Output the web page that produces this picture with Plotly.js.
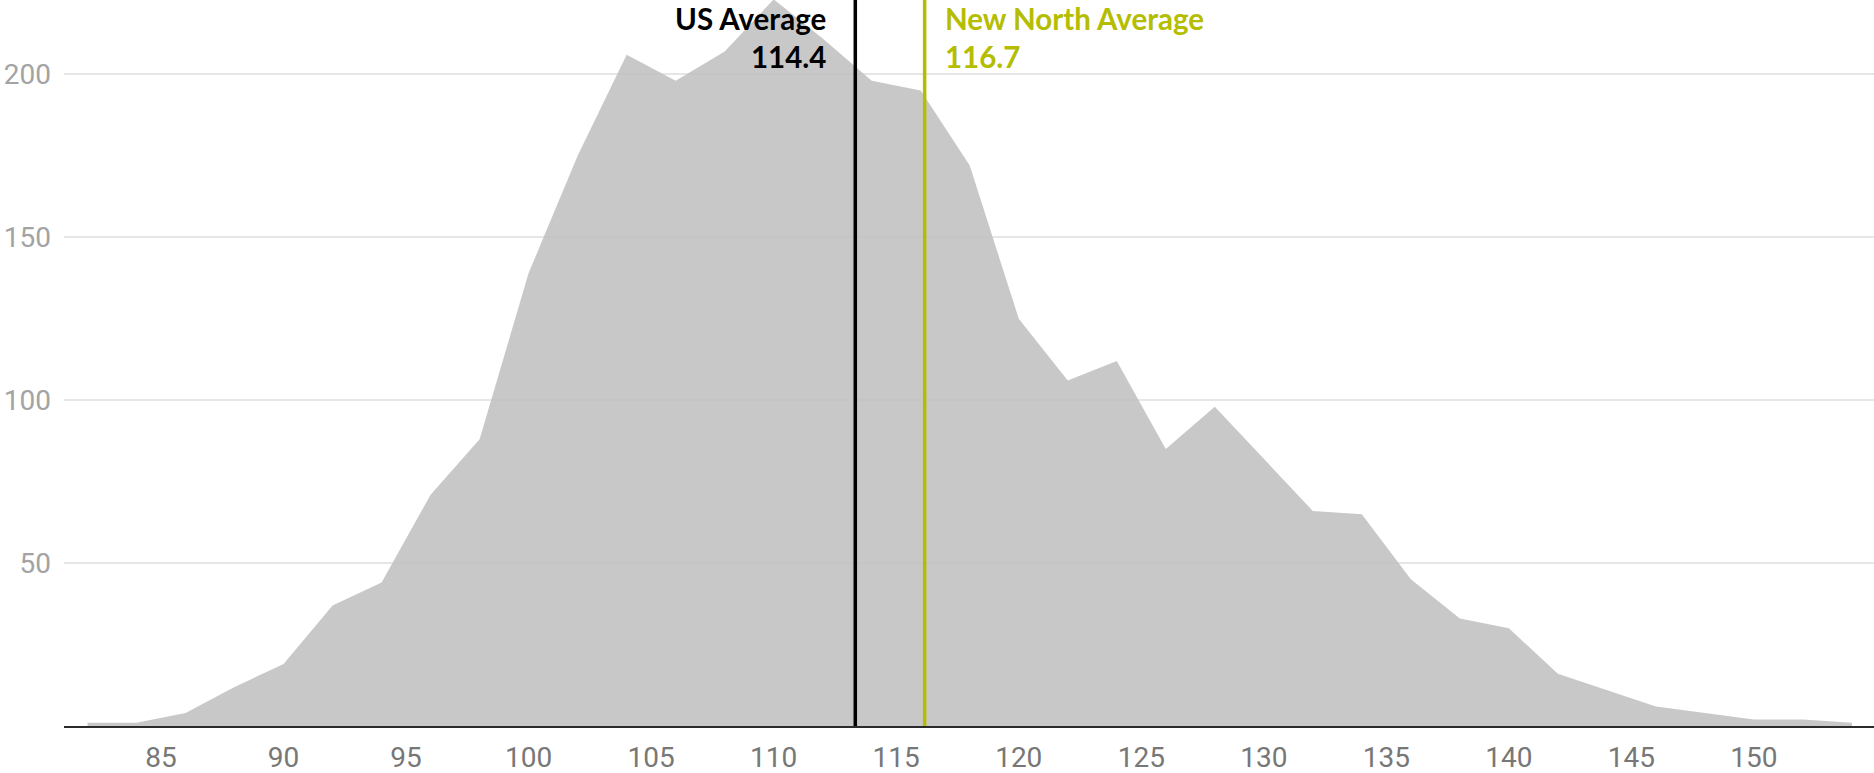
<!DOCTYPE html>
<html>
<head>
<meta charset="utf-8">
<script src="https://cdn.plot.ly/plotly-3.0.1.min.js"></script>
<style>
  html, body { margin: 0; padding: 0; background: #ffffff; }
  #chart { width: 1874px; height: 773px; }
</style>
</head>
<body>
<div id="chart"></div>
<script>
// ---- data ----
const scoreBins = [82, 84, 86, 88, 90, 92, 94, 96, 98, 100, 102, 104, 106, 108, 110, 112, 114, 116, 118, 120,
                   122, 124, 126, 128, 130, 132, 134, 136, 138, 140, 142, 144, 146, 148, 150, 152, 154];
const counts    = [1, 1, 4, 12, 19, 37, 44, 71, 88, 139, 175, 206, 198, 207, 223, 211, 198, 195, 172, 125,
                   106, 112, 85, 98, 82, 66, 65, 45, 33, 30, 16, 11, 6, 4, 2, 2, 1];

const avgNames     = ["US Average", "New North Average"];
const avgValues    = ["114.4", "116.7"];
const avgPositions = [113.33, 116.16];   // where the marker lines are drawn in the reference
const avgColors    = ["#000000", "#b4bd00"];

const xTickVals = [85, 90, 95, 100, 105, 110, 115, 120, 125, 130, 135, 140, 145, 150];
const yTickVals = [50, 100, 150, 200];

// ---- chart ----
const trace = {
  x: scoreBins,
  y: counts,
  type: "scatter",
  mode: "lines",
  fill: "tozeroy",
  fillcolor: "rgba(192,192,192,0.88)",
  line: { width: 0, color: "rgba(192,192,192,0.88)" },
  hoverinfo: "skip",
  showlegend: false
};

const shapes = avgPositions.map((p, i) => ({
  type: "line", xref: "x", yref: "paper",
  x0: p, x1: p, y0: 0, y1: 1,
  line: { color: avgColors[i], width: 3.5 },
  layer: "above"
}));

const labelFont = (c) => ({ family: "Lato, 'Liberation Sans', sans-serif", size: 29.5, color: c, weight: 700 });
const annotations = [];
avgPositions.forEach((p, i) => {
  const right = i === 0;
  [avgNames[i], avgValues[i]].forEach((t, j) => {
    annotations.push({
      x: p, xref: "x", y: 1, yref: "paper",
      xanchor: right ? "right" : "left",
      yanchor: "middle",
      xshift: right ? -27 : 18,
      yshift: j === 0 ? -18 : -56,
      text: "<b>" + t + "</b>",
      showarrow: false,
      font: labelFont(avgColors[i]),
      align: right ? "right" : "left"
    });
  });
});

const layout = {
  width: 1874,
  height: 773,
  margin: { l: 64, r: 0, t: 0, b: 47, pad: 0 },
  paper_bgcolor: "#ffffff",
  plot_bgcolor: "#ffffff",
  showlegend: false,
  xaxis: {
    range: [81.04, 154.9],
    tickvals: xTickVals,
    ticktext: xTickVals.map(String),
    showgrid: false,
    zeroline: false,
    showline: true,
    linecolor: "#2b2b2b",
    linewidth: 2,
    ticks: "",
    ticklabelstandoff: 5,
    tickfont: { family: "Roboto, sans-serif", size: 28, color: "#777777" },
    automargin: false,
    fixedrange: true
  },
  yaxis: {
    range: [0, 222.8],
    tickvals: yTickVals,
    ticktext: yTickVals.map(String),
    showgrid: true,
    gridcolor: "#e6e6e6",
    gridwidth: 2,
    zeroline: false,
    showline: false,
    ticks: "",
    ticklabelstandoff: 12,
    tickfont: { family: "Roboto, sans-serif", size: 28, color: "#a3a3a3" },
    automargin: false,
    fixedrange: true
  },
  shapes: shapes,
  annotations: annotations
};

Plotly.newPlot("chart", [trace], layout, { displayModeBar: false, staticPlot: true });
</script>
</body>
</html>
